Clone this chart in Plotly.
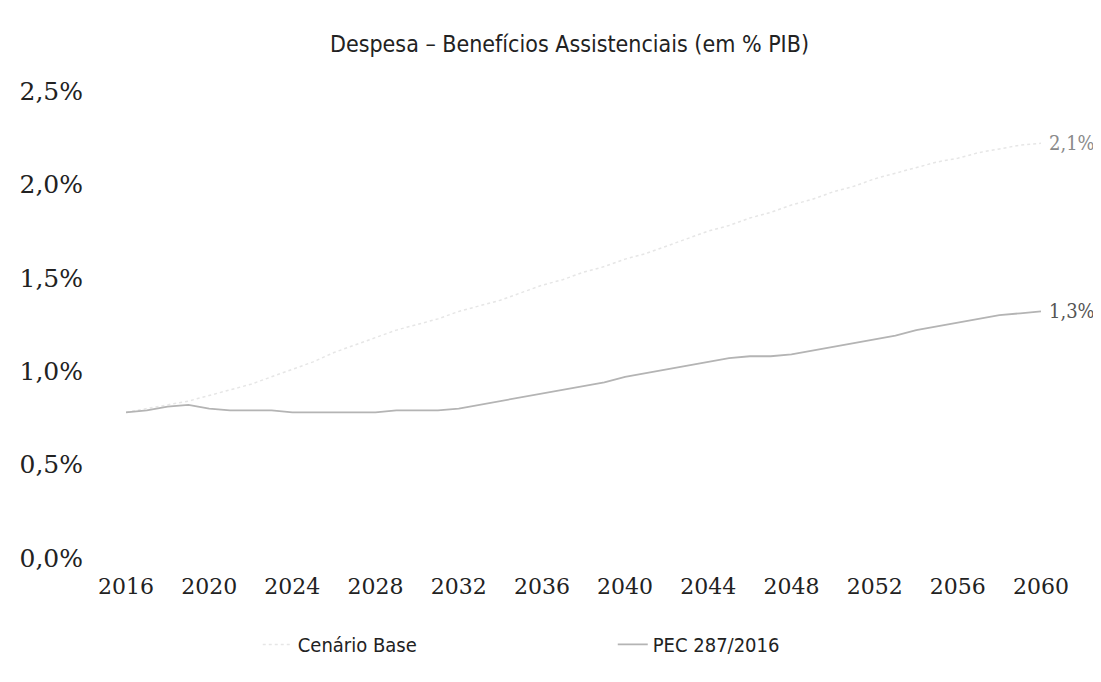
import plotly.graph_objects as go

years = list(range(2016, 2061))
cenario_base = [0.78, 0.80, 0.82, 0.84, 0.87, 0.90, 0.93, 0.97, 1.01, 1.05,
                1.10, 1.14, 1.18, 1.22, 1.25, 1.28, 1.32, 1.35, 1.38, 1.42,
                1.46, 1.49, 1.53, 1.56, 1.60, 1.63, 1.67, 1.71, 1.75, 1.78,
                1.82, 1.85, 1.89, 1.92, 1.96, 1.99, 2.03, 2.06, 2.09, 2.12,
                2.14, 2.17, 2.19, 2.21, 2.22]
pec_287 = [0.78, 0.79, 0.81, 0.82, 0.80, 0.79, 0.79, 0.79, 0.78, 0.78,
           0.78, 0.78, 0.78, 0.79, 0.79, 0.79, 0.80, 0.82, 0.84, 0.86,
           0.88, 0.90, 0.92, 0.94, 0.97, 0.99, 1.01, 1.03, 1.05, 1.07,
           1.08, 1.08, 1.09, 1.11, 1.13, 1.15, 1.17, 1.19, 1.22, 1.24,
           1.26, 1.28, 1.30, 1.31, 1.32]
x_ticks = list(range(2016, 2061, 4))
y_ticks = [0.0, 0.5, 1.0, 1.5, 2.0, 2.5]
y_tick_text = ["0,0%", "0,5%", "1,0%", "1,5%", "2,0%", "2,5%"]
end_labels = ["2,1%", "1,3%"]

SANS_NARROW = "Liberation Sans Narrow, DejaVu Sans Condensed, sans-serif"

fig = go.Figure()
fig.add_trace(go.Scatter(x=years, y=cenario_base, mode="lines", name="Cenário Base",
                         line=dict(color="#e6e6e6", width=1.5, dash="dot")))
fig.add_trace(go.Scatter(x=years, y=pec_287, mode="lines", name="PEC 287/2016",
                         line=dict(color="#b4b4b4", width=1.8)))

fig.add_annotation(x=years[-1], y=cenario_base[-1], text=end_labels[0], showarrow=False,
                   xanchor="left", xshift=6,
                   font=dict(family="DejaVu Serif Condensed", size=20, color="#8a8a8a"))
fig.add_annotation(x=years[-1], y=pec_287[-1], text=end_labels[1], showarrow=False,
                   xanchor="left", xshift=6,
                   font=dict(family="DejaVu Serif Condensed", size=20, color="#555555"))

fig.update_layout(
    width=1101, height=682,
    paper_bgcolor="white", plot_bgcolor="white",
    margin=dict(l=118, r=68, t=83, b=132, autoexpand=False),
    title=dict(text="Despesa – Benefícios Assistenciais (em % PIB)",
               x=0.51, xref="container", y=1 - 36 / 682, yref="container",
               xanchor="center", yanchor="middle",
               font=dict(family=SANS_NARROW, size=23, color="#222222")),
    xaxis=dict(range=[2016, 2060], tickvals=x_ticks, ticktext=[str(t) for t in x_ticks],
               showgrid=False, zeroline=False, showline=False, ticks="",
               ticklabelstandoff=13, automargin=False,
               tickfont=dict(family="DejaVu Serif", size=22, color="#222222")),
    yaxis=dict(range=[0, 2.5], tickvals=y_ticks, ticktext=y_tick_text,
               showgrid=False, zeroline=False, showline=False, ticks="",
               ticklabelstandoff=42, automargin=False,
               tickfont=dict(family="DejaVu Serif", size=25, color="#222222")),
    legend=dict(orientation="h", x=0.144, xanchor="left", y=-0.185, yanchor="middle",
                entrywidth=310, entrywidthmode="pixels",
                font=dict(family=SANS_NARROW, size=20, color="#222222")),
    showlegend=True,
)

fig.write_html("out.html")
